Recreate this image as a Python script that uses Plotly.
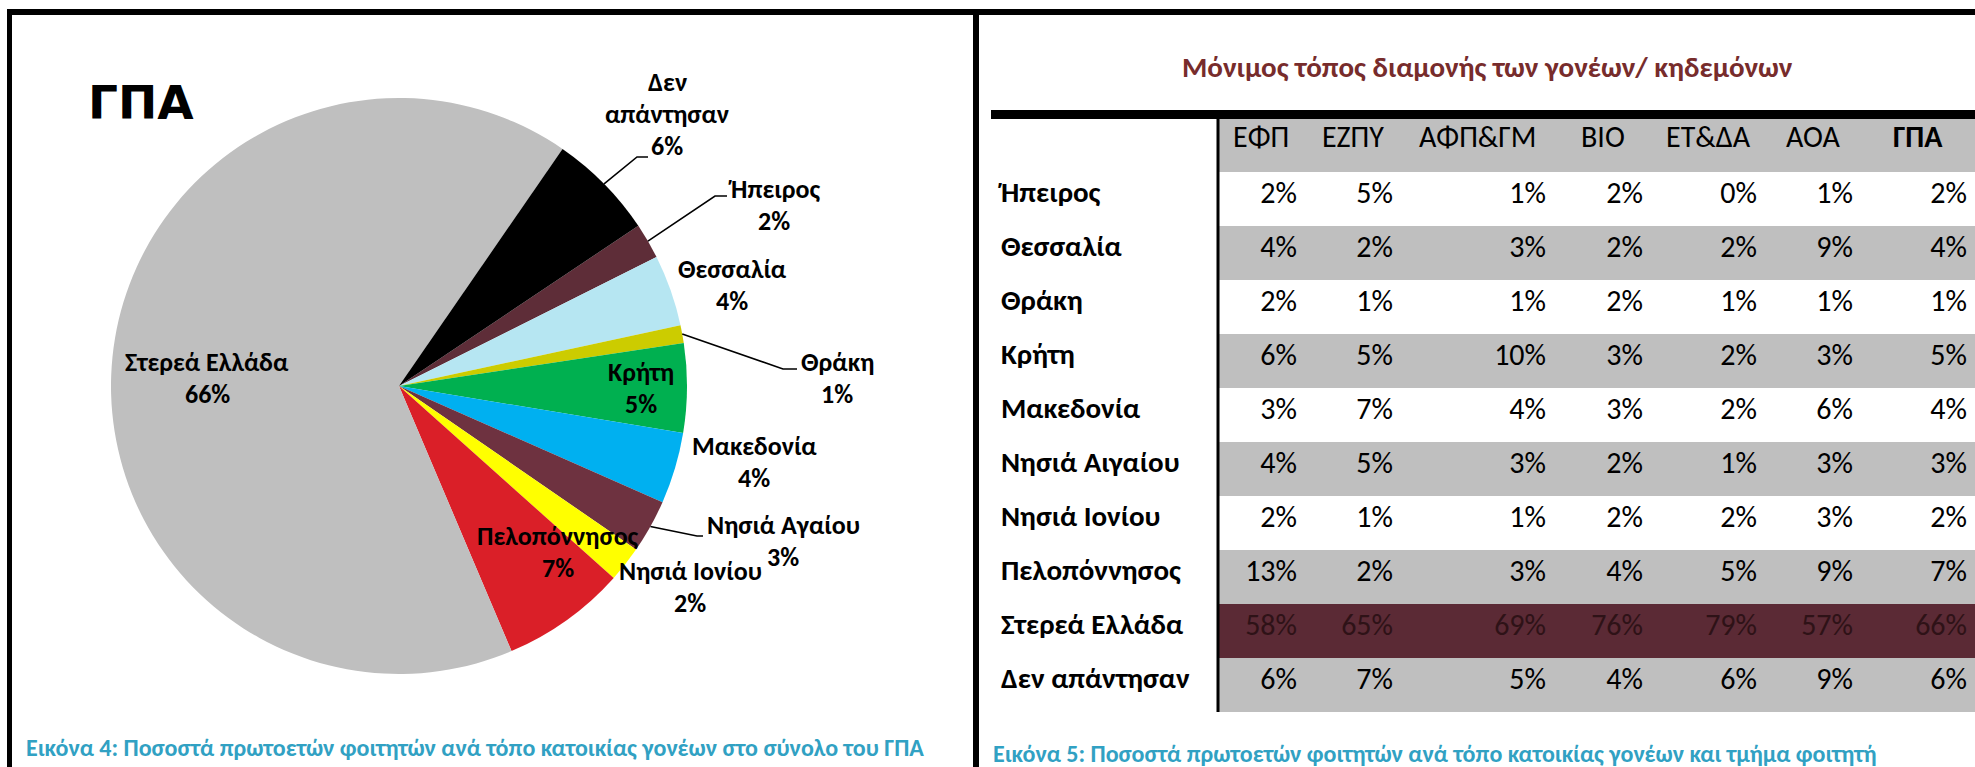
import math
import plotly.graph_objects as go

# ---------------- data ----------------
regions = ["Ήπειρος", "Θεσσαλία", "Θράκη", "Κρήτη", "Μακεδονία", "Νησιά Αιγαίου",
           "Νησιά Ιονίου", "Πελοπόννησος", "Στερεά Ελλάδα", "Δεν απάντησαν"]
pie_names = ["Ήπειρος", "Θεσσαλία", "Θράκη", "Κρήτη", "Μακεδονία", "Νησιά Αγαίου",
             "Νησιά Ιονίου", "Πελοπόννησος", "Στερεά Ελλάδα", "Δεν\nαπάντησαν"]
departments = ["ΕΦΠ", "ΕΖΠΥ", "ΑΦΠ&ΓΜ", "ΒΙΟ", "ΕΤ&ΔΑ", "ΑΟΑ", "ΓΠΑ"]
efp = [2, 4, 2, 6, 3, 4, 2, 13, 58, 6]
ezpy = [5, 2, 1, 5, 7, 5, 1, 2, 65, 7]
afpgm = [1, 3, 1, 10, 4, 3, 1, 3, 69, 5]
bio = [2, 2, 2, 3, 3, 2, 2, 4, 76, 4]
etda = [0, 2, 1, 2, 2, 1, 2, 5, 79, 6]
aoa = [1, 9, 1, 3, 6, 3, 3, 9, 57, 9]
gpa = [2, 4, 1, 5, 4, 3, 2, 7, 66, 6]

pie_title = "ΓΠΑ"
table_title = "Μόνιμος τόπος διαμονής των γονέων/ κηδεμόνων"
caption_left = "Εικόνα 4: Ποσοστά πρωτοετών φοιτητών ανά τόπο κατοικίας γονέων στο σύνολο του ΓΠΑ"
caption_right = "Εικόνα 5: Ποσοστά πρωτοετών φοιτητών ανά τόπο κατοικίας γονέων και τμήμα φοιτητή"

# ---------------- style ----------------
W, H = 1975, 767
FONT = "Carlito, Calibri, Lato, 'Open Sans', sans-serif"
pie_colors = ["#5e2d38", "#b6e6f2", "#cccc00", "#00b050", "#00b0f0", "#6e3240",
              "#ffff00", "#da1f28", "#bfbfbf", "#000000"]
GRAY = "#bfbfbf"
MAROON = "#5b2a35"
row_fills = ["#ffffff", GRAY, "#ffffff", GRAY, "#ffffff", GRAY, "#ffffff", GRAY, MAROON, GRAY]
row_text = ["#000000"] * 8 + ["#2e1217", "#000000"]
CAPTION_COLOR = "#31a1c3"
TITLE_COLOR = "#772c2c"

PIE_CX, PIE_CY, PIE_R = 399, 386, 288
PIE_ROTATION = 56.2
# label anchor: (center x, baseline of last line) in px
label_anchor = [(774, 230), (732, 310), (837, 403), (641, 413), (754, 487), (783, 566),
                (690, 612), (558, 577), (207, 403), (667, 155)]
LINE_PITCH = 32
PIE_FONT_SIZE = 26
# leader lines: slice index -> (elbow x, elbow y, end x)
leaders = {9: (637, 157, 648), 0: (715, 196, 727), 2: (783, 369, 797), 5: (697, 536, 703)}

col_px = [224, 88, 96, 153, 97, 114, 96, 114]
TABLE_X0 = 993
TABLE_TOP = 119
HEADER_H = 53
ROW_H = 54
HEADER_BASELINE = 147
LABEL_FONT = 29
VALUE_FONT = 30
HEADER_FONT = 30


def px(x):
    return x / W


def py(y):
    return 1 - y / H


fig = go.Figure()

# ---------------- pie ----------------
fig.add_trace(go.Pie(
    labels=regions, values=gpa, sort=False, direction="clockwise",
    rotation=PIE_ROTATION, textinfo="none", showlegend=False,
    marker=dict(colors=pie_colors, line=dict(width=0)),
    domain=dict(x=[px(PIE_CX - PIE_R), px(PIE_CX + PIE_R)],
                y=[py(PIE_CY + PIE_R), py(PIE_CY - PIE_R)]),
))

annotations = []
shapes = []
total = sum(gpa)
cum = 0.0
for i, v in enumerate(gpa):
    mid = math.radians(PIE_ROTATION + 360.0 * (cum + v / 2.0) / total)
    cum += v
    lines = pie_names[i].split("\n") + [f"{v}%"]
    ax, base = label_anchor[i]
    n = len(lines)
    for k, t in enumerate(lines):
        b = base - (n - 1 - k) * LINE_PITCH
        annotations.append(dict(
            x=px(ax), y=py(b - 0.34 * PIE_FONT_SIZE), xref="paper", yref="paper",
            text=t, showarrow=False, xanchor="center", yanchor="middle",
            font=dict(family=FONT, size=PIE_FONT_SIZE, color="#000000", weight="bold")))
    if i in leaders:
        ex, ey, endx = leaders[i]
        sx = PIE_CX + PIE_R * math.sin(mid)
        sy = PIE_CY - PIE_R * math.cos(mid)
        path = f"M {px(sx)},{py(sy)} L {px(ex)},{py(ey)} L {px(endx)},{py(ey)}"
        shapes.append(dict(type="path", xref="paper", yref="paper", path=path,
                           line=dict(color="#000000", width=1.6)))

annotations.append(dict(x=px(86), y=py(102), xref="paper", yref="paper", text=pie_title,
                        showarrow=False, xanchor="left", yanchor="middle",
                        font=dict(family="'DejaVu Sans', sans-serif", size=47,
                                  color="#000000", weight="bold")))

# ---------------- table ----------------
cols = [efp, ezpy, afpgm, bio, etda, aoa, gpa]
cell_vals = [regions] + [[f"{v}%" for v in c] for c in cols]
fills = [["#ffffff"] * len(regions)] + [row_fills for _ in cols]
fcolors = [["#000000"] * len(regions)] + [row_text for _ in cols]

fig.add_trace(go.Table(
    domain=dict(x=[px(TABLE_X0), 1.0], y=[0.0, py(TABLE_TOP)]),
    columnwidth=col_px,
    header=dict(values=[""] * (len(cols) + 1), height=HEADER_H,
                fill=dict(color=["#ffffff"] + [GRAY] * len(cols)),
                line=dict(width=0, color="rgba(0,0,0,0)"),
                font=dict(family=FONT, size=HEADER_FONT, color="#000000")),
    cells=dict(values=cell_vals, height=ROW_H,
               fill=dict(color=fills),
               align=["left"] + ["right"] * len(cols),
               line=dict(width=0, color="rgba(0,0,0,0)"),
               font=dict(family=FONT, size=[LABEL_FONT] + [VALUE_FONT] * len(cols),
                         color=fcolors, weight=["bold"] + ["normal"] * len(cols))),
))

# header labels centred on their table columns (columns from the table's width ratios)
scale = (W - TABLE_X0) / sum(col_px)
edge = TABLE_X0 + col_px[0] * scale
for j, d in enumerate(departments):
    wcol = col_px[j + 1] * scale
    annotations.append(dict(
        x=px(edge + wcol / 2), y=py(HEADER_BASELINE - 0.34 * HEADER_FONT),
        xref="paper", yref="paper", text=d.replace("&", "&amp;"), showarrow=False,
        xanchor="center", yanchor="middle",
        font=dict(family=FONT, size=HEADER_FONT, color="#000000",
                  weight="bold" if j == len(departments) - 1 else "normal")))
    edge += wcol

annotations.append(dict(x=px(1487), y=py(67), xref="paper", yref="paper", text=table_title,
                        showarrow=False, xanchor="center", yanchor="middle",
                        font=dict(family=FONT, size=29, color=TITLE_COLOR, weight="bold")))
annotations.append(dict(x=px(24), y=py(747), xref="paper", yref="paper", text=caption_left,
                        showarrow=False, xanchor="left", yanchor="middle",
                        font=dict(family=FONT, size=24, color=CAPTION_COLOR, weight="bold")))
annotations.append(dict(x=px(991), y=py(753), xref="paper", yref="paper", text=caption_right,
                        showarrow=False, xanchor="left", yanchor="middle",
                        font=dict(family=FONT, size=24, color=CAPTION_COLOR, weight="bold")))

# ---------------- frame lines ----------------
shapes += [
    dict(type="line", xref="paper", yref="paper", x0=px(7), x1=1.0, y0=py(12), y1=py(12),
         line=dict(color="#000000", width=6)),
    dict(type="line", xref="paper", yref="paper", x0=px(9.5), x1=px(9.5), y0=py(9), y1=0,
         line=dict(color="#000000", width=5)),
    dict(type="line", xref="paper", yref="paper", x0=px(976), x1=px(976), y0=py(9), y1=0,
         line=dict(color="#000000", width=6)),
    dict(type="line", xref="paper", yref="paper", x0=px(991), x1=1.0, y0=py(114.5), y1=py(114.5),
         line=dict(color="#000000", width=9)),
    dict(type="line", xref="paper", yref="paper", x0=px(1218), x1=px(1218), y0=py(119),
         y1=py(TABLE_TOP + HEADER_H + ROW_H * len(regions)),
         line=dict(color="#000000", width=3)),
]

fig.update_layout(width=W, height=H, autosize=False,
                  margin=dict(l=0, r=0, t=0, b=0),
                  paper_bgcolor="#ffffff", plot_bgcolor="#ffffff",
                  annotations=annotations, shapes=shapes)

fig.write_html("out.html", config={"displayModeBar": False},
               post_script="document.body.style.margin='0';")
